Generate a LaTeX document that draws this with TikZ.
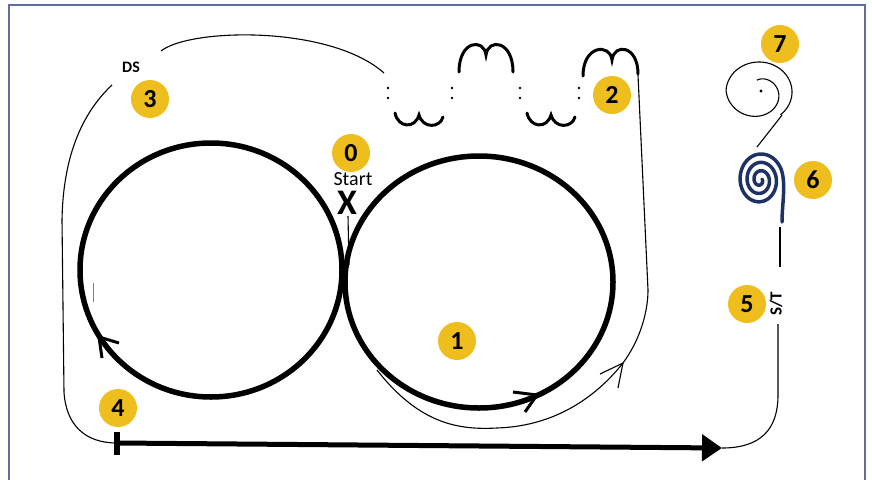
\documentclass[tikz,border=0pt]{standalone}
\usepackage{fontspec}
\setmainfont{Carlito}
\usetikzlibrary{arrows.meta}
\definecolor{badge}{RGB}{238,190,30}
\definecolor{framec}{RGB}{95,110,155}
\definecolor{navy}{RGB}{30,50,100}
\tikzset{
  badgenode/.style={circle,fill=badge,minimum size=38pt,inner sep=0pt,font=\bfseries\fontsize{26}{26}\selectfont},
  loopline/.style={line width=5.5pt},
  thinpath/.style={line width=1.1pt},
  squig/.style={line width=3pt,line cap=round},
  chev/.style={line width=3pt},
  dotc/.style={fill=black}
}
\begin{document}
\begin{tikzpicture}[x=1pt,y=-1pt]
\useasboundingbox (0,0) rectangle (872,479);
\draw[framec,line width=1.5pt] (9,5) rectangle (865,495);

% big loops
\draw[loopline] (211,270) ellipse [x radius=131, y radius=127];
\draw[loopline] (479,282) ellipse [x radius=134, y radius=126];
\draw[gray,line width=0.8pt] (93,283) -- (93,302);
\draw[chev] (102,358) -- (99,337) -- (119,343);
\draw[chev] (513,392) -- (537,395) -- (525,412);

% start
\node[badgenode] (b0) at (351,153) {0};
\node[font=\fontsize{20}{20}\selectfont,inner sep=0pt] (start) at (353,179) {Start};
\node[font=\bfseries\fontsize{36}{36}\selectfont,inner sep=0pt] (x) at (347,203) {X};
\coordinate (xa) at (348,216);
\coordinate (xb) at (349,265);
\draw[thinpath] (xa) -- (xb);

% thin path around right loop
\coordinate (r1) at (377,370);
\coordinate (r2) at (497,428);
\coordinate (r3) at (623,363);
\coordinate (r4) at (648,290);
\coordinate (r5) at (638,75);
\draw[thinpath] (r1) .. controls (420,425) and (460,430) .. (r2)
  .. controls (560,426) and (600,392) .. (r3)
  .. controls (640,340) and (648,312) .. (r4) -- (r5);
\draw[thinpath] (600,374) -- (r3) -- (618,388);

% outer left path and top arc
\coordinate (o1) at (112,85);
\coordinate (o2) at (62,220);
\coordinate (o3) at (64,392);
\coordinate (o4) at (117,443);
\draw[thinpath] (o1) .. controls (80,115) and (63,160) .. (o2) -- (o3)
  .. controls (66,425) and (85,443) .. (o4);
\coordinate (t1) at (161,51);
\coordinate (t2) at (384,73);
\draw[thinpath] (t1) .. controls (190,28) and (330,25) .. (t2);
\node[font=\bfseries\fontsize{16}{16}\selectfont] (ds) at (131,67) {DS};
\node[badgenode] (b3) at (150,99) {3};

% squiggles
\foreach \px in {388,452,520,579} {
  \fill[dotc] (\px,88) circle (1.4);
  \fill[dotc] (\px,98) circle (1.4);
}
\draw[squig] (395,113) .. controls (398,128) and (415,129) .. (419,115)
  .. controls (423,129) and (440,128) .. (443,117);
\draw[squig] (527,113) .. controls (530,128) and (547,129) .. (551,115)
  .. controls (555,129) and (572,128) .. (575,117);
\draw[squig] (459,72) .. controls (459,40) and (484,38) .. (486,55)
  .. controls (488,38) and (513,40) .. (513,72);
\draw[squig] (583,76) .. controls (583,45) and (610,43) .. (612,60)
  .. controls (614,43) and (638,45) .. (638,74);
\node[badgenode] (b2) at (612,95) {2};
\node[badgenode] (b1) at (457,341) {1};

% bottom bar
\coordinate (bar0) at (117,443);
\coordinate (bar1) at (722,448);
\draw[line width=5pt,-{Triangle[length=20pt,width=26pt]}] (bar0) -- (bar1);
\draw[line width=6pt] (117,432) -- (117,455);
\node[badgenode] (b4) at (118,408) {4};

% right side
\coordinate (s1) at (778,395);
\coordinate (s2) at (778,324);
\draw[thinpath] (bar1) .. controls (760,448) and (778,430) .. (s1) -- (s2);
\node[font=\bfseries\fontsize{17}{17}\selectfont,rotate=90,inner sep=0pt] (st) at (776,304) {S/T};
\coordinate (s3) at (780,267);
\coordinate (s4) at (780,227);
\draw[thinpath] (s3) -- (s4);
\node[badgenode] (b5) at (747,304) {5};

% spiral 6
\draw[navy,line width=3.5pt,line cap=round,line join=round]
  plot[domain=0:1,samples=240]
  ({760+(2+21*\x)*cos(-1100+1080*\x)},{180+1.2*(2+21*\x)*sin(-1100+1080*\x)});
\coordinate (sp6end) at (781.6,170.6);
\coordinate (sp6tail) at (782,222);
\draw[navy,line width=3.5pt,line cap=round] (sp6end) .. controls (786,185) and (782,205) .. (sp6tail);
\node[badgenode] (b6) at (813,180) {6};

% spiral 7
\fill (761,91) circle (1.6);
\draw[thinpath,line join=round]
  plot[domain=0:1,samples=200]
  ({759+(12+21*min(1,1.8*\x))*cos(-100+510*\x)},{92+(12+18*min(1,1.8*\x))*sin(-100+510*\x)});
\coordinate (sp7end) at (782.1,115);
\coordinate (sp7tail) at (757,147);
\draw[thinpath] (sp7end) -- (sp7tail);
\node[badgenode] (b7) at (780,44) {7};
\end{tikzpicture}
\end{document}
